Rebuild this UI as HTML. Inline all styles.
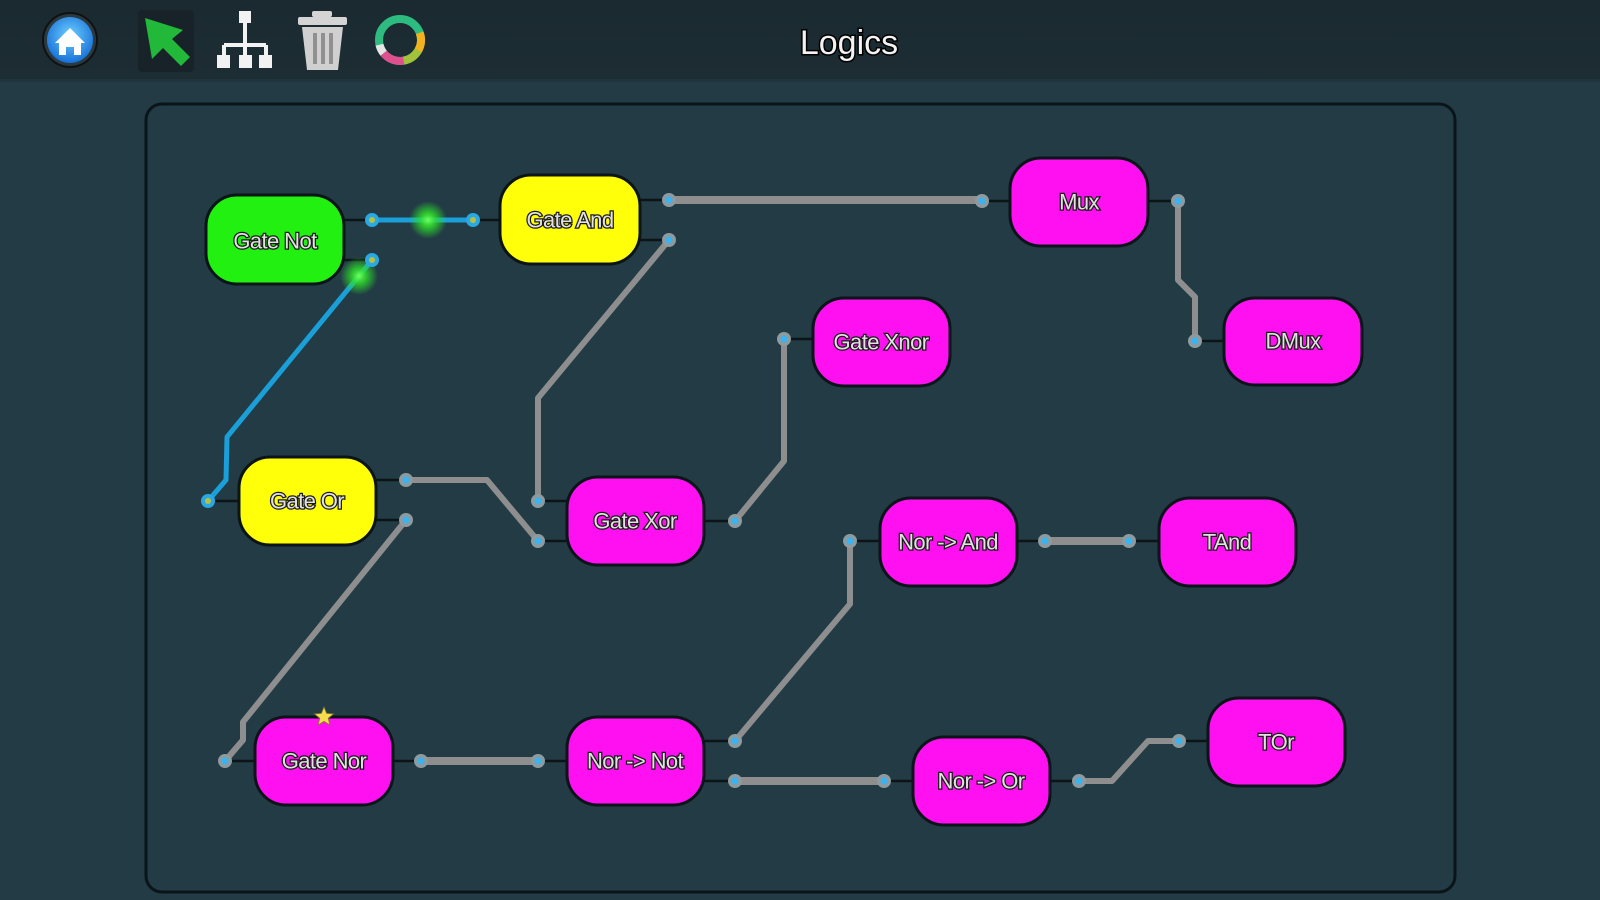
<!DOCTYPE html>
<html><head><meta charset="utf-8"><style>
html,body{margin:0;padding:0;background:#223b45;}
svg{display:block;}
.lbl{font-family:"Liberation Sans",sans-serif;font-size:22px;fill:#e2e2e2;stroke:#1a1a1a;stroke-width:2.5px;paint-order:stroke;text-anchor:middle;dominant-baseline:central;letter-spacing:-0.6px;}
</style></head><body>
<svg width="1600" height="900" viewBox="0 0 1600 900" xmlns="http://www.w3.org/2000/svg">
<defs>
<radialGradient id="hb" cx="50%" cy="40%" r="60%"><stop offset="0" stop-color="#6fd0ff"/><stop offset="1" stop-color="#1670d8"/></radialGradient>
<radialGradient id="glow"><stop offset="0" stop-color="#6bff5a" stop-opacity="1"/><stop offset="0.4" stop-color="#2ee02a" stop-opacity="0.8"/><stop offset="1" stop-color="#2ee02a" stop-opacity="0"/></radialGradient>
<linearGradient id="tb" x1="0" y1="0" x2="0" y2="1"><stop offset="0" stop-color="#1a2a30"/><stop offset="1" stop-color="#1c2d33"/></linearGradient>
</defs>
<rect x="0" y="0" width="1600" height="900" fill="#223b45"/>
<rect x="0" y="0" width="1600" height="80" fill="url(#tb)"/>
<rect x="0" y="79" width="1600" height="3" fill="#1f343c"/>

<!-- toolbar icons -->
<circle cx="70" cy="40" r="27" fill="#2a3a40" stroke="#111" stroke-width="2"/>
<circle cx="70" cy="40" r="23" fill="url(#hb)"/>
<polygon points="55,43 70,28 85,43 81,43 81,55 74,55 74,47 66,47 66,55 59,55 59,43" fill="#fff"/>

<rect x="138" y="10" width="56" height="62" rx="4" fill="#172329"/>
<polygon points="145,18 183,30 172,39 190,57 181,66 163,48 152,59" fill="#22b83a"/>

<g fill="#f2f2f2" stroke="#f2f2f2">
<rect x="239" y="11" width="12" height="12" stroke="none"/>
<line x1="245" y1="22" x2="245" y2="56" stroke-width="4"/>
<line x1="224" y1="45" x2="266" y2="45" stroke-width="4"/>
<line x1="224" y1="45" x2="224" y2="56" stroke-width="4"/>
<line x1="266" y1="45" x2="266" y2="56" stroke-width="4"/>
<rect x="217" y="55" width="13" height="13" stroke="none"/>
<rect x="239" y="55" width="13" height="13" stroke="none"/>
<rect x="259" y="55" width="13" height="13" stroke="none"/>
</g>

<g>
<rect x="312" y="11" width="20" height="6" rx="2" fill="#d4d4d4"/>
<rect x="298" y="17" width="49" height="8" rx="2" fill="#d4d4d4"/>
<polygon points="302,27 343,27 338,70 307,70" fill="#d0d0d0"/>
<rect x="313" y="33" width="4" height="31" fill="#909090"/>
<rect x="321" y="33" width="4" height="31" fill="#909090"/>
<rect x="329" y="33" width="4" height="31" fill="#909090"/>
</g>

<g fill="none" stroke-width="8">
<circle cx="400" cy="40" r="21" stroke="#2dbb80"/>
<path d="M 419.7 32.8 A 21 21 0 0 1 418.2 50.5" stroke="#f5b21f"/>
<path d="M 418.2 50.5 A 21 21 0 0 1 403.6 60.7" stroke="#a2c23c"/>
<path d="M 403.6 60.7 A 21 21 0 0 1 383.6 53.1" stroke="#e0508f"/>
<path d="M 383.6 53.1 A 21 21 0 0 1 379.5 44.7" stroke="#e6e6e6"/>
</g>

<text x="849" y="54" font-family="Liberation Sans, sans-serif" font-size="34" fill="#f2f2f2" stroke="#000" stroke-width="3" paint-order="stroke" text-anchor="middle">Logics</text>

<!-- panel -->
<rect x="146" y="104" width="1309" height="788" rx="16" fill="#223b45" stroke="#0b1519" stroke-width="3"/>

<!-- stubs -->
<g stroke="#0d1416" stroke-width="2.5">
<line x1="344" y1="220" x2="372" y2="220"/><line x1="344" y1="260" x2="372" y2="260"/>
<line x1="473" y1="220" x2="500" y2="220"/>
<line x1="640" y1="200" x2="669" y2="200"/><line x1="640" y1="240" x2="669" y2="240"/>
<line x1="982" y1="201" x2="1010" y2="201"/><line x1="1148" y1="201" x2="1178" y2="201"/>
<line x1="1195" y1="341" x2="1224" y2="341"/>
<line x1="784" y1="339" x2="813" y2="339"/>
<line x1="208" y1="501" x2="239" y2="501"/>
<line x1="376" y1="480" x2="406" y2="480"/><line x1="376" y1="520" x2="406" y2="520"/>
<line x1="538" y1="501" x2="567" y2="501"/><line x1="538" y1="541" x2="567" y2="541"/>
<line x1="704" y1="521" x2="735" y2="521"/>
<line x1="850" y1="541" x2="880" y2="541"/><line x1="1017" y1="541" x2="1045" y2="541"/>
<line x1="1129" y1="541" x2="1159" y2="541"/>
<line x1="225" y1="761" x2="255" y2="761"/><line x1="393" y1="761" x2="421" y2="761"/>
<line x1="538" y1="761" x2="567" y2="761"/>
<line x1="704" y1="741" x2="735" y2="741"/><line x1="704" y1="781" x2="735" y2="781"/>
<line x1="884" y1="781" x2="913" y2="781"/><line x1="1050" y1="781" x2="1079" y2="781"/>
<line x1="1179" y1="741" x2="1208" y2="741"/>
</g>

<!-- gray wires -->
<g fill="none" stroke="#8e8e8e" stroke-width="6" stroke-linejoin="round" stroke-linecap="round">
<polyline points="669,240 538,398 538,501"/>
<polyline points="406,480 487,480 538,541"/>
<polyline points="406,520 243,722 243,740 225,761"/>
<polyline points="735,521 784,461 784,339"/>
<polyline points="1178,201 1178,280 1195,297 1195,341"/>
<polyline points="735,741 850,604 850,541"/>
<polyline points="1079,781 1112,781 1148,741 1179,741"/>
</g>
<g fill="none" stroke="#8e8e8e" stroke-width="8" stroke-linecap="round">
<polyline points="669,200 982,200"/>
<polyline points="421,761 538,761"/>
<polyline points="735,781 884,781"/>
<polyline points="1045,541 1129,541"/>
</g>

<!-- blue wires -->
<g fill="none" stroke="#1a9fd8" stroke-width="5" stroke-linejoin="round" stroke-linecap="round">
<polyline points="372,220 473,220"/>
<polyline points="372,260 227,437 226,480 208,501"/>
</g>
<circle cx="428" cy="220" r="19" fill="url(#glow)"/>
<circle cx="359" cy="276" r="19" fill="url(#glow)"/>

<!-- ports -->
<g>
<g fill="#8e9a9e">
<circle cx="669" cy="200" r="7"/><circle cx="669" cy="240" r="7"/>
<circle cx="982" cy="201" r="7"/><circle cx="1178" cy="201" r="7"/>
<circle cx="1195" cy="341" r="7"/><circle cx="784" cy="339" r="7"/>
<circle cx="406" cy="480" r="7"/><circle cx="406" cy="520" r="7"/>
<circle cx="538" cy="501" r="7"/><circle cx="538" cy="541" r="7"/>
<circle cx="735" cy="521" r="7"/><circle cx="850" cy="541" r="7"/>
<circle cx="1045" cy="541" r="7"/><circle cx="1129" cy="541" r="7"/>
<circle cx="225" cy="761" r="7"/><circle cx="421" cy="761" r="7"/>
<circle cx="538" cy="761" r="7"/><circle cx="735" cy="741" r="7"/>
<circle cx="735" cy="781" r="7"/><circle cx="884" cy="781" r="7"/>
<circle cx="1079" cy="781" r="7"/><circle cx="1179" cy="741" r="7"/>
</g>
<g fill="#3ab3ee">
<circle cx="669" cy="200" r="3.5"/><circle cx="669" cy="240" r="3.5"/>
<circle cx="982" cy="201" r="3.5"/><circle cx="1178" cy="201" r="3.5"/>
<circle cx="1195" cy="341" r="3.5"/><circle cx="784" cy="339" r="3.5"/>
<circle cx="406" cy="480" r="3.5"/><circle cx="406" cy="520" r="3.5"/>
<circle cx="538" cy="501" r="3.5"/><circle cx="538" cy="541" r="3.5"/>
<circle cx="735" cy="521" r="3.5"/><circle cx="850" cy="541" r="3.5"/>
<circle cx="1045" cy="541" r="3.5"/><circle cx="1129" cy="541" r="3.5"/>
<circle cx="225" cy="761" r="3.5"/><circle cx="421" cy="761" r="3.5"/>
<circle cx="538" cy="761" r="3.5"/><circle cx="735" cy="741" r="3.5"/>
<circle cx="735" cy="781" r="3.5"/><circle cx="884" cy="781" r="3.5"/>
<circle cx="1079" cy="781" r="3.5"/><circle cx="1179" cy="741" r="3.5"/>
</g>
<g fill="#2aa8e4">
<circle cx="372" cy="220" r="7"/><circle cx="372" cy="260" r="7"/>
<circle cx="473" cy="220" r="7"/><circle cx="208" cy="501" r="7"/>
</g>
<g fill="#b8c040">
<circle cx="372" cy="220" r="3"/><circle cx="372" cy="260" r="3"/>
<circle cx="473" cy="220" r="3"/><circle cx="208" cy="501" r="3"/>
</g>
</g>

<!-- nodes -->
<g stroke="#0b1418" stroke-width="3">
<rect x="206" y="195" width="138" height="89" rx="31" fill="#22f010"/>
<rect x="500" y="175" width="140" height="89" rx="31" fill="#ffff0a"/>
<rect x="1010" y="158" width="138" height="88" rx="31" fill="#ff10f0"/>
<rect x="813" y="298" width="137" height="88" rx="31" fill="#ff10f0"/>
<rect x="1224" y="298" width="138" height="87" rx="31" fill="#ff10f0"/>
<rect x="239" y="457" width="137" height="88" rx="31" fill="#ffff0a"/>
<rect x="567" y="477" width="137" height="88" rx="31" fill="#ff10f0"/>
<rect x="880" y="498" width="137" height="88" rx="31" fill="#ff10f0"/>
<rect x="1159" y="498" width="137" height="88" rx="31" fill="#ff10f0"/>
<rect x="255" y="717" width="138" height="88" rx="31" fill="#ff10f0"/>
<rect x="567" y="717" width="137" height="88" rx="31" fill="#ff10f0"/>
<rect x="913" y="737" width="137" height="88" rx="31" fill="#ff10f0"/>
<rect x="1208" y="698" width="137" height="88" rx="31" fill="#ff10f0"/>
</g>

<text class="lbl" x="275" y="241">Gate Not</text>
<text class="lbl" x="570" y="220">Gate And</text>
<text class="lbl" x="1079" y="202">Mux</text>
<text class="lbl" x="881" y="342">Gate Xnor</text>
<text class="lbl" x="1293" y="341">DMux</text>
<text class="lbl" x="307" y="501">Gate Or</text>
<text class="lbl" x="635" y="521">Gate Xor</text>
<text class="lbl" x="948" y="542">Nor -&gt; And</text>
<text class="lbl" x="1227" y="542">TAnd</text>
<text class="lbl" x="324" y="761">Gate Nor</text>
<text class="lbl" x="635" y="761">Nor -&gt; Not</text>
<text class="lbl" x="981" y="781">Nor -&gt; Or</text>
<text class="lbl" x="1276" y="742">TOr</text>

<polygon points="324,707 326.6,713.4 333.5,713.9 328.2,718.3 329.9,725 324,721.4 318.1,725 319.8,718.3 314.5,713.9 321.4,713.4" fill="#f5dd50" stroke="#8a7a20" stroke-width="0.8"/>
</svg>
</body></html>
